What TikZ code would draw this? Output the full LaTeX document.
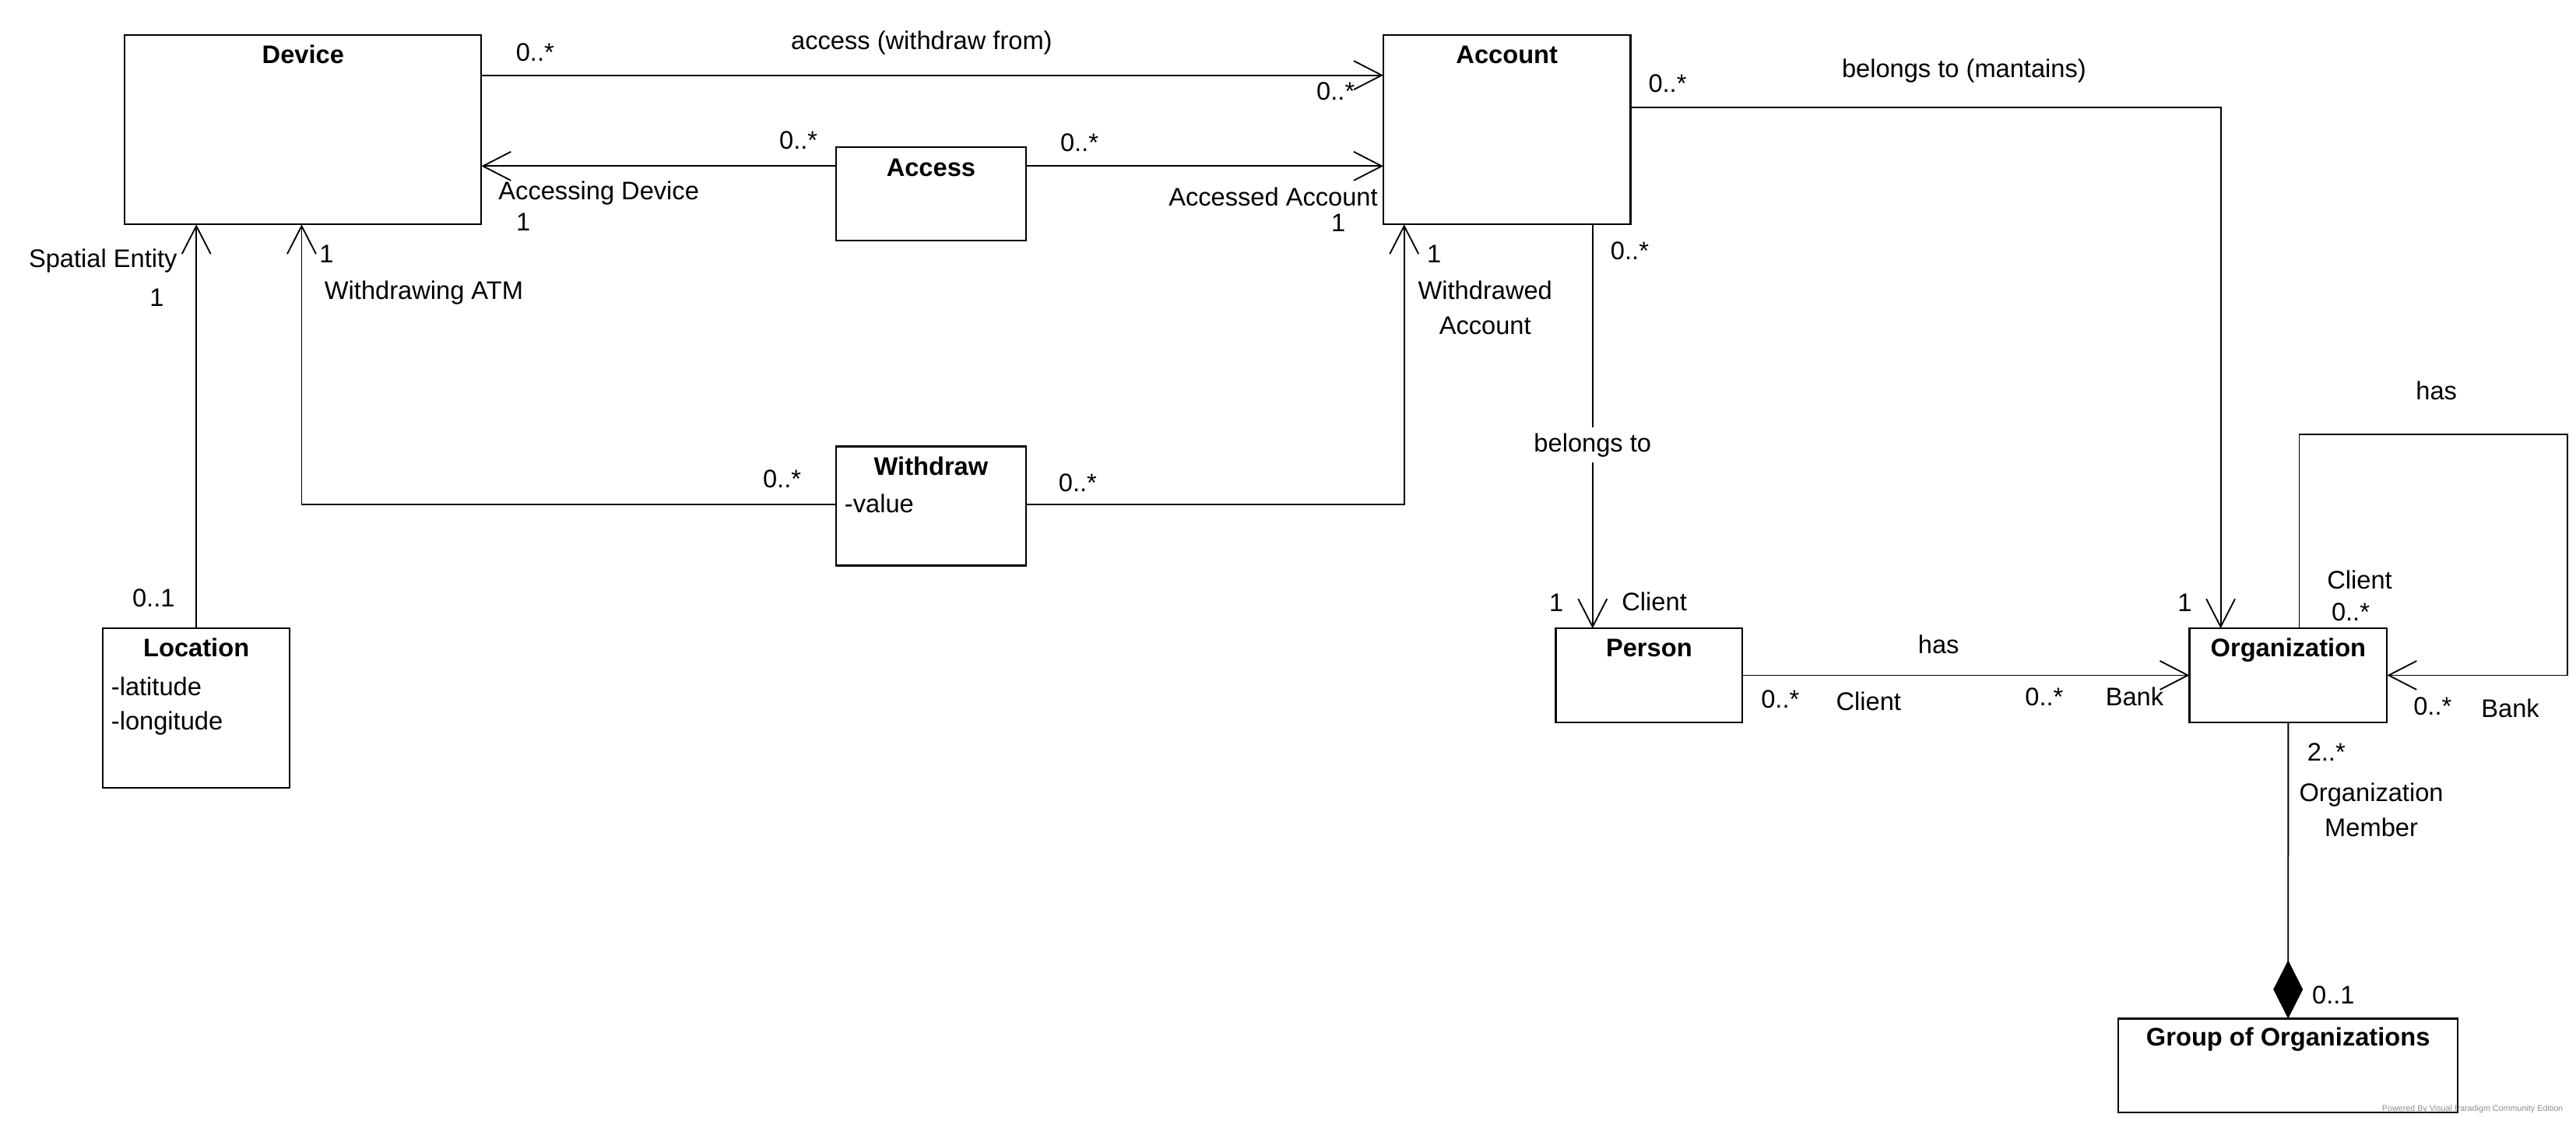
\documentclass[tikz,border=0pt]{standalone}
\usepackage{fontspec}
\setmainfont{Liberation Sans}
\usetikzlibrary{positioning,arrows.meta,calc}

\begin{document}
\begin{tikzpicture}[x=0.2mm, y=-0.2mm,
  every node/.style={font=\fontsize{8.8}{12.2}\selectfont, inner sep=1pt},
  cls/.style={draw, line width=.6pt, anchor=north west, outer sep=0pt, inner sep=0pt},
  ttl/.style={anchor=base, font=\fontsize{8.8}{12.2}\selectfont\bfseries},
  attr/.style={anchor=base west},
  lbl/.style={align=center},
  assoc/.style={-{Straight Barb[length=3.4mm, width=3.5mm]}, line width=.5pt},
  comp/.style={{Diamond[length=7.1mm, width=3.6mm]}-, line width=.5pt}]
  \useasboundingbox (0,0) rectangle (1568,682);

  % classes
  \node[cls, minimum width=43.4mm, minimum height=23.06mm] (device)   at (76,21.3)     {};
  \node[cls, minimum width=30.1mm, minimum height=23.06mm] (account)  at (842,21.3)    {};
  \node[cls, minimum width=23.08mm, minimum height=11.38mm] (access)  at (509,89.7)    {};
  \node[cls, minimum width=23.08mm, minimum height=14.5mm] (withdraw) at (509,271.7)   {};
  \node[cls, minimum width=22.76mm, minimum height=19.4mm] (location) at (62.6,382.5)  {};
  \node[cls, minimum width=22.72mm, minimum height=11.42mm] (person)  at (947,382.5)   {};
  \node[cls, minimum width=24.06mm, minimum height=11.42mm] (org)     at (1332.7,382.5) {};
  \node[cls, minimum width=41.3mm, minimum height=11.4mm] (group)     at (1289.5,620)  {};

  \node[ttl] (device-t)   at ($(device.north)+(0,17.4)$)   {Device};
  \node[ttl] (account-t)  at ($(account.north)+(0,17.4)$)  {Account};
  \node[ttl] (access-t)   at ($(access.north)+(0,17.4)$)   {Access};
  \node[ttl] (withdraw-t) at ($(withdraw.north)+(0,17.4)$) {Withdraw};
  \node[ttl] (location-t) at ($(location.north)+(0,17.4)$) {Location};
  \node[ttl] (person-t)   at ($(person.north)+(0,17.4)$)   {Person};
  \node[ttl] (org-t)      at ($(org.north)+(0,17.4)$)      {Organization};
  \node[ttl] (group-t)    at ($(group.north)+(0,16.8)$)    {Group of Organizations};

  \node[attr] (withdraw-a1) at ($(withdraw.north west)+(3,40.4)$) {-value};
  \node[attr] (location-a1) at ($(location.north west)+(3,40.8)$) {-latitude};
  \node[attr] (location-a2) at ($(location.north west)+(3,61.5)$) {-longitude};

  % associations
  \coordinate (accL) at ($(access.north west)+(0,11.4)$);
  \coordinate (accR) at ($(access.north east)+(0,11.4)$);
  \coordinate (orgloop) at (1562.6,264.6);
  \draw[assoc] ($(device.north east)+(0,24.5)$) -- ($(account.north west)+(0,24.5)$);
  \draw[assoc] (accL) -- (accL -| device.east);
  \draw[assoc] (accR) -- (accR -| account.west);
  \draw[assoc] ($(account.north east)+(0,44)$) -| ($(org.north west)+(19,0)$);
  \draw[assoc] ($(account.south west)+(127.4,0)$) -- node[pos=.546, fill=white, inner ysep=2pt] (belongs) {belongs to} ($(person.north west)+(22.4,0)$);
  \draw[assoc] ($(withdraw.north west)+(0,35.5)$) -| ($(device.south west)+(107.6,0)$);
  \draw[assoc] ($(withdraw.north east)+(0,35.5)$) -| ($(account.south west)+(12.7,0)$);
  \draw[assoc] (location.north) -- (location.north |- device.south);
  \draw[assoc] (person.east) -- (org.west);
  \draw[assoc] ($(org.north west)+(66.8,0)$) |- (orgloop) |- (org.east);
  \draw[comp] (group.north) -- (org.south);

  % association labels and multiplicities
  \node (m-dev1)  at (325.7,31.7) {0..*};
  \node (n-acc)   at (561,26)     {access (withdraw from)};
  \node (m-acc1)  at (813,55.7)   {0..*};
  \node (m-acs1)  at (486,85.6)   {0..*};
  \node (r-acsd)  at (364.5,117.5) {Accessing Device};
  \node (m-acs2)  at (318.5,135)  {1};
  \node (m-acs3)  at (657,87)     {0..*};
  \node (r-acsa)  at (775,120)    {Accessed Account};
  \node (m-acs4)  at (814.6,135.5) {1};
  \node (m-bel1)  at (1015,51)    {0..*};
  \node (n-bel)   at (1195.5,43)  {belongs to (mantains)};
  \node (m-bel2)  at (1329.9,367) {1};
  \node (m-bel3)  at (992,152.5)  {0..*};
  \node (m-bel4)  at (947.3,367)  {1};
  \node (r-bel)   at (1007,366)   {Client};
  \node (m-wd1)   at (476,291.7)  {0..*};
  \node (m-wd2)   at (198.8,154.7) {1};
  \node (r-wdd)   at (258,178)    {Withdrawing ATM};
  \node (m-wd3)   at (656,294)    {0..*};
  \node (m-wd4)   at (872.9,154.7) {1};
  \node[lbl] (r-wda) at (904,187.3) {Withdrawed\\Account};
  \node (r-loc)   at (62.7,158.7) {Spatial Entity};
  \node (m-loc1)  at (95.4,181)   {1};
  \node (m-loc2)  at (93.5,364)   {0..1};
  \node (n-has1)  at (1180,392.4) {has};
  \node (m-has1)  at (1083.6,425.5) {0..*};
  \node (r-has1)  at (1137.4,427) {Client};
  \node (m-has2)  at (1244.3,424) {0..*};
  \node (r-has2)  at (1299.3,424) {Bank};
  \node (n-has2)  at (1483,238)   {has};
  \node (r-has3)  at (1436.3,353) {Client};
  \node (m-has3)  at (1430.8,372.8) {0..*};
  \node (m-has4)  at (1480.7,430) {0..*};
  \node (r-has4)  at (1528,431.3) {Bank};
  \node (m-grp1)  at (1416,458)   {2..*};
  \node[lbl] (r-grp) at (1443.4,492.8) {Organization\\Member};
  \node (m-grp2)  at (1420.3,605.7) {0..1};

  \node[text=black!45, font=\fontsize{2.9}{3}\selectfont] (powered) at (1505,675) {Powered By Visual Paradigm Community Edition};
\end{tikzpicture}
\end{document}
